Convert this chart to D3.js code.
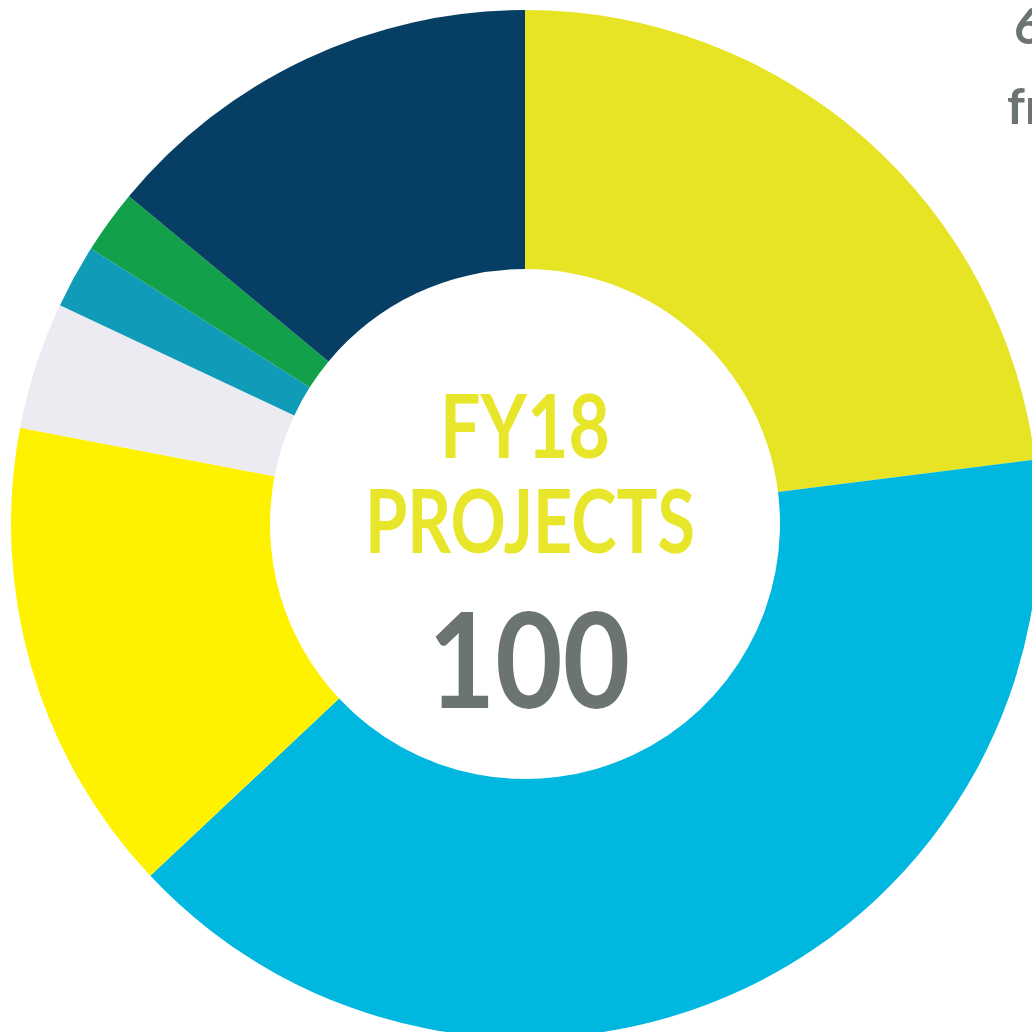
<!DOCTYPE html>
<html>
<head>
<meta charset="utf-8">
<script src="https://cdn.jsdelivr.net/npm/d3@7"></script>
<style>
  html, body { margin: 0; padding: 0; background: #ffffff; }
  svg { display: block; }
</style>
</head>
<body>
<svg id="chart" width="1032" height="1032"></svg>
<script>
// Data, clockwise from 12 o'clock
const categories = ["Segment A", "Segment B", "Segment C", "Segment D", "Segment E", "Segment F", "Segment G"];
const values = [23, 40, 15, 4, 2, 2, 14];
const colors = ["#e6e424", "#00b7df", "#fff200", "#ebebf1", "#109cb8", "#13a04b", "#073f64"];
const centerLines = ["FY18", "PROJECTS"];
const totalLabel = "100";
const cornerLines = ["6", "fr"];

const svg = d3.select("#chart");
const cx = 525, cy = 524, outerR = 514, innerR = 255;

const data = categories.map((c, i) => ({ category: c, value: values[i], color: colors[i] }));
const pie = d3.pie().value(d => d.value).sort(null).startAngle(0).endAngle(2 * Math.PI);
const arc = d3.arc().innerRadius(innerR).outerRadius(outerR);

const g = svg.append("g").attr("transform", `translate(${cx},${cy})`);
g.selectAll("path.slice")
  .data(pie(data))
  .join("path")
  .attr("class", "slice")
  .attr("d", arc)
  .attr("fill", d => d.data.color);

// Center text
svg.append("text")
  .attr("x", 525).attr("y", 458)
  .attr("text-anchor", "middle")
  .attr("font-family", "Lato, 'Open Sans', sans-serif")
  .attr("font-weight", 700)
  .attr("font-size", 88)
  .attr("fill", "#e8e62a")
  .attr("textLength", 170)
  .attr("lengthAdjust", "spacingAndGlyphs")
  .text(centerLines[0]);

svg.append("text")
  .attr("x", 530).attr("y", 553)
  .attr("text-anchor", "middle")
  .attr("font-family", "Lato, 'Open Sans', sans-serif")
  .attr("font-weight", 700)
  .attr("font-size", 88)
  .attr("fill", "#e8e62a")
  .attr("textLength", 330)
  .attr("lengthAdjust", "spacingAndGlyphs")
  .text(centerLines[1]);

svg.append("text")
  .attr("x", 529).attr("y", 708)
  .attr("text-anchor", "middle")
  .attr("font-family", "Lato, 'Open Sans', sans-serif")
  .attr("font-weight", 700)
  .attr("font-size", 132)
  .attr("fill", "#6b7470")
  .attr("textLength", 202)
  .attr("lengthAdjust", "spacingAndGlyphs")
  .text(totalLabel);

// Cropped text at top right
svg.append("text")
  .attr("x", 1014).attr("y", 44)
  .attr("font-family", "Lato, 'Open Sans', sans-serif")
  .attr("font-weight", 700)
  .attr("font-size", 50)
  .attr("fill", "#6b7470")
  .text(cornerLines[0]);

svg.append("text")
  .attr("x", 1007).attr("y", 124)
  .attr("font-family", "Lato, 'Open Sans', sans-serif")
  .attr("font-weight", 700)
  .attr("font-size", 50)
  .attr("fill", "#6b7470")
  .text(cornerLines[1]);
</script>
</body>
</html>
